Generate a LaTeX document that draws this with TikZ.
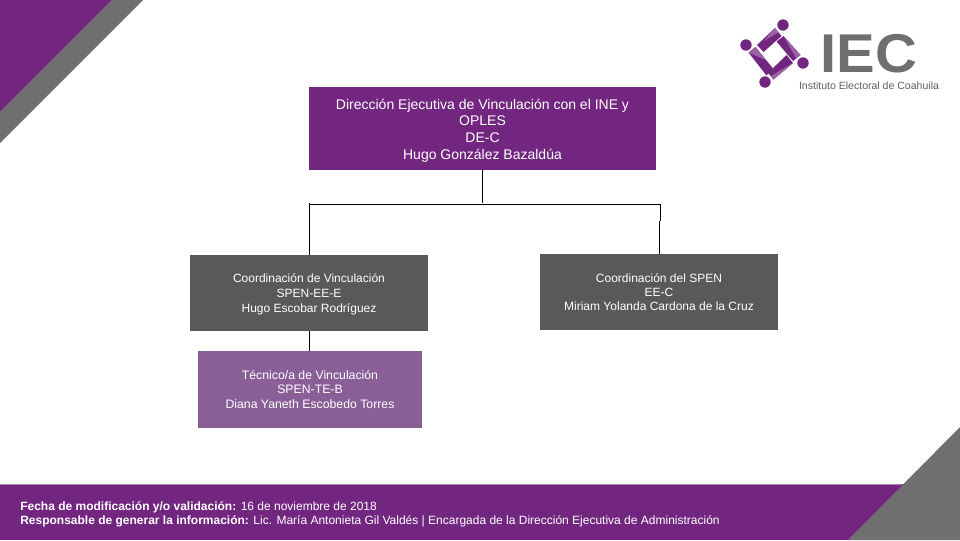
\documentclass[tikz,border=0pt]{standalone}
\usepackage{fontspec}
\setmainfont{Liberation Sans}
\newfontfamily\iecfont[FakeStretch=1.06]{Liberation Sans}
\definecolor{iecpurple}{HTML}{732680}
\definecolor{iecgray}{HTML}{707070}
\definecolor{boxgray}{HTML}{595959}
\definecolor{boxlilac}{HTML}{8A5F98}
\definecolor{logogray}{HTML}{6F6F71}
\tikzset{
  > = stealth,
  orgbox/.style = { rectangle, align = center, text = white, inner sep = 0pt },
  orgline/.style = { draw = black, line width = 0.75pt },
  footnote/.style = { anchor = west, text = white, font = \fontsize{9}{10}\selectfont, inner sep = 0pt }
}

\begin{document}
\begin{tikzpicture}
  [
    x = 0.75pt, y = -0.75pt
  ]
    \useasboundingbox (0,0) rectangle (960,540);

    % corners and footer band
    \fill [iecgray] (112,0) -- (143,0) -- (0,143) -- (0,112) -- cycle;
    \fill [iecpurple] (0,0) -- (112,0) -- (0,112) -- cycle;
    \fill [iecpurple] (0,484) rectangle (960,540);
    \fill [iecpurple!60!white] (0,483.5) rectangle (902,485);
    \fill [iecgray] (960,427) -- (960,540) -- (848,540) -- cycle;

    % logo
    \foreach \cx/\cy in {783/25, 746/45, 803/63, 765/82}
      \fill [iecpurple] (\cx,\cy) circle [radius = 5.7];
    \fill [iecpurple] (757,45) -- (775,28) -- (781.5,36) -- (763.5,52) -- cycle;
    \fill [iecpurple] (776.5,41.5) -- (783.5,36) -- (800.5,55) -- (793,61) -- cycle;
    \fill [iecpurple] (768,73) -- (786.5,55) -- (793,63) -- (773.5,79.5) -- cycle;
    \fill [iecpurple] (748.5,52.5) -- (755.5,47) -- (773,68.5) -- (766.5,75.5) -- cycle;
    \fill [iecpurple!72!white] (764,41) -- (775,28) -- (778,32.5) -- cycle;
    \fill [iecpurple!72!white] (783.5,36) -- (800.5,55) -- (796,58) -- cycle;
    \fill [iecpurple!72!white] (793,63) -- (773.5,79.5) -- (771,76) -- cycle;
    \fill [iecpurple!72!white] (748.5,52.5) -- (755.5,47) -- (766,60) -- cycle;
    \node (iec) [text = logogray, inner sep = 0pt, font = \fontsize{41}{41}\iecfont\bfseries] at (869,54) {IEC};
    \node (iecname) [text = logogray!85!black, inner sep = 0pt, font = \fontsize{7.9}{9}\selectfont] at (869,85.5) {Instituto Electoral de Coahuila};

    % chart
    \node (dir) [orgbox, fill = iecpurple, minimum width = 260.25pt, minimum height = 62.25pt] at (482.5,128.5) {};
    \node (dirtext) [orgbox, font = \fontsize{10.5}{12.5}\selectfont] at (482.5,130.5)
      {Dirección Ejecutiva de Vinculación con el INE y\\OPLES\\DE-C\\Hugo González Bazaldúa};
    \node (coordv) [orgbox, fill = boxgray, minimum width = 178.5pt, minimum height = 57pt] at (309,293) {};
    \node (coordvtext) [orgbox, font = \fontsize{9}{11.2}\selectfont] at (309,294)
      {Coordinación de Vinculación\\SPEN-EE-E\\Hugo Escobar Rodríguez};
    \node (coords) [orgbox, fill = boxgray, minimum width = 178.5pt, minimum height = 57pt, font = \fontsize{9}{10.6}\selectfont] at (659,292)
      {Coordinación del SPEN\\EE-C\\Miriam Yolanda Cardona de la Cruz};
    \node (tec) [orgbox, fill = boxlilac, minimum width = 168pt, minimum height = 57.75pt, font = \fontsize{9.2}{10.9}\selectfont] at (310,389.5)
      {Técnico/a de Vinculación\\SPEN-TE-B\\Diana Yaneth Escobedo Torres};

    \coordinate (jtop) at (482.5,204.5);
    \coordinate (jleft) at (309.5,204.5);
    \coordinate (jright) at (660.5,204.5);
    \coordinate (jbend) at (660.5,221);
    \coordinate (jdrop) at (659.5,221);
    \draw [orgline] (dir.south -| jtop) -- (482.5,203);
    \draw [orgline] (jleft) -- (jright) -- (jbend);
    \draw [orgline] (jleft) ++(0,-1.5) -- (coordv.north -| jleft);
    \draw [orgline] (jdrop) -- (coords.north -| jdrop);
    \draw [orgline] (coordv.south -| jleft) -- (tec.north -| jleft);

    % footer
    \node (fecha) [footnote] at (20,507.5) {\textbf{Fecha de modificación y/o validación:} 16 de noviembre de 2018};
    \node (resp) [footnote] at (20,521.5) {\textbf{Responsable de generar la información:} Lic. María Antonieta Gil Valdés | Encargada de la Dirección Ejecutiva de Administración};
  \end{tikzpicture}
\end{document}
